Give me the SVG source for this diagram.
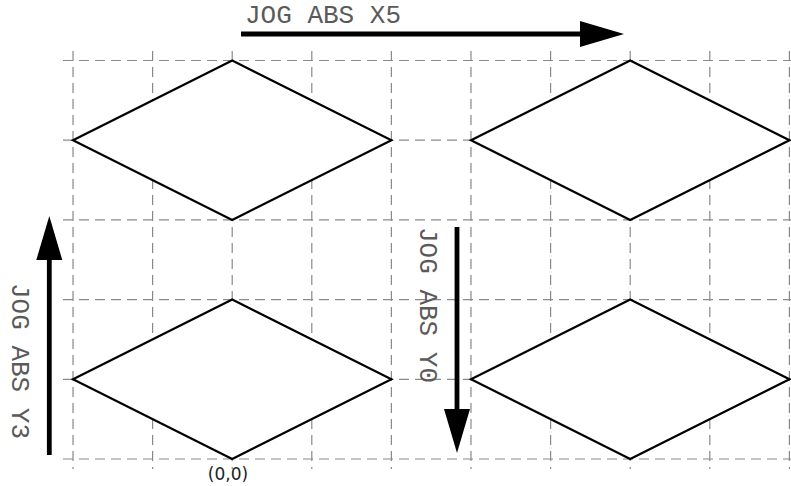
<svg xmlns="http://www.w3.org/2000/svg" width="791" height="486" viewBox="0 0 791 486">
<style>
.grid line{stroke:#8a8a8a;stroke-width:1.2;stroke-dasharray:10 6;fill:none}
.shape{fill:#fff;stroke:#000;stroke-width:2.2;stroke-linejoin:miter}
.conn{stroke:#000;stroke-width:4.8;fill:none}
.lbl{font-family:"Liberation Mono",monospace;font-size:26px;fill:#5a5a5a}
.coord{font-family:"DejaVu Sans",sans-serif;font-size:17px;fill:#222}
</style>
<defs>
<marker id="head" markerUnits="userSpaceOnUse" markerWidth="46" markerHeight="28" viewBox="0 -14 46 28" refX="0" refY="0" orient="auto">
<path d="M0,-13 L44,0 L0,13 Z" fill="#000"/>
</marker>
</defs>
<rect width="791" height="486" fill="#fff"/>
<g class="grid" id="grid">
<line x1="63" y1="60.5" x2="791" y2="60.5"/>
<line x1="63" y1="140.2" x2="791" y2="140.2"/>
<line x1="63" y1="219.9" x2="791" y2="219.9"/>
<line x1="63" y1="299.6" x2="791" y2="299.6"/>
<line x1="63" y1="379.3" x2="791" y2="379.3"/>
<line x1="63" y1="459" x2="791" y2="459"/>
<line x1="73" y1="51" x2="73" y2="469"/>
<line x1="152.6" y1="51" x2="152.6" y2="469"/>
<line x1="232.2" y1="51" x2="232.2" y2="469"/>
<line x1="311.8" y1="51" x2="311.8" y2="469"/>
<line x1="391.4" y1="51" x2="391.4" y2="469"/>
<line x1="471" y1="51" x2="471" y2="469"/>
<line x1="550.6" y1="51" x2="550.6" y2="469"/>
<line x1="630.2" y1="51" x2="630.2" y2="469"/>
<line x1="709.8" y1="51" x2="709.8" y2="469"/>
<line x1="789.4" y1="51" x2="789.4" y2="469"/>
</g>
<g id="diamond-tl"><polygon class="shape" points="73,140.2 232.2,60.5 391.4,140.2 232.2,219.9"/></g>
<g id="diamond-tr"><polygon class="shape" points="471,140.2 630.2,60.5 789.4,140.2 630.2,219.9"/></g>
<g id="diamond-bl"><polygon class="shape" points="73,379.3 232.2,299.6 391.4,379.3 232.2,459"/></g>
<g id="diamond-br"><polygon class="shape" points="471,379.3 630.2,299.6 789.4,379.3 630.2,459"/></g>
<g id="connectors">
<line class="conn" x1="241" y1="34" x2="580" y2="34" marker-end="url(#head)"/>
<line class="conn" x1="49.3" y1="455" x2="49.3" y2="260" marker-end="url(#head)"/>
<line class="conn" x1="457" y1="227" x2="457" y2="409" marker-end="url(#head)"/>
</g>
<g id="labels">
<text class="lbl" x="245" y="23">JOG ABS X5</text>
<text class="lbl" transform="translate(12,283) rotate(90)">JOG ABS Y3</text>
<text class="lbl" transform="translate(420,227) rotate(90)">JOG ABS Y0</text>
<text class="coord" x="228" y="480" text-anchor="middle">(0,0)</text>
</g>
</svg>
